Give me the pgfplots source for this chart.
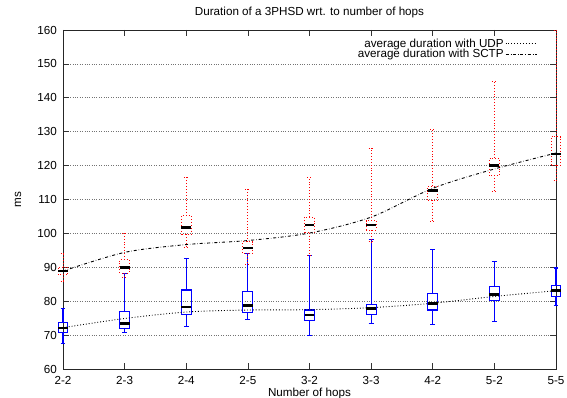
\documentclass[border=0pt]{standalone}
\usepackage{fontspec}
\setmainfont{Liberation Sans}
\usepackage{pgfplots}
\pgfplotsset{compat=1.18}
\usepgfplotslibrary{statistics}
\pgfplotsset{
  mylegimg/.style={legend image code/.code={\draw[##1] (0bp,0bp) -- (31bp,0bp);}},
  udpbox/.style={draw=blue, solid, line width=1.1bp, forget plot,
    boxplot/draw direction=y,
    boxplot/every box/.style={draw=blue, solid, line width=1.1bp},
    boxplot/every whisker/.style={draw=blue, solid, line width=1.1bp},
    boxplot/every median/.style={draw=none}},
  sctpbox/.style={draw=red, dotted, line width=0.9bp, forget plot,
    boxplot/draw direction=y,
    boxplot/every box/.style={draw=red, dotted, line width=0.9bp},
    boxplot/every whisker/.style={draw=red, dotted, line width=0.9bp},
    boxplot/every median/.style={draw=none}},
  medline/.style={draw=black, only marks, mark=-, mark size=4.9bp, forget plot,
    mark options={draw=black, solid, line width=2.6bp}},
}
\begin{document}
\fontsize{11.7}{13.5}\selectfont
\begin{tikzpicture}[font=\fontsize{11.7}{13.5}\selectfont]
\begin{axis}[
  scale only axis, width=493bp, height=339bp,
  xmin=0, xmax=8, ymin=60, ymax=160,
  xtick={0,...,8},
  xticklabels={2-2,2-3,2-4,2-5,3-2,3-3,4-2,5-2,5-5},
  ytick={60,70,...,160},
  /pgf/number format/assume math mode=true,
  xticklabel style={yshift=-3bp},
  yticklabel style={xshift=-2bp},
  ymajorgrids, grid style={dotted, draw=black!55, line width=0.7bp},
  tick align=inside, major tick length=6bp,
  tick style={draw=black!80, line width=0.6bp},
  axis line style={draw=black!85, line width=0.8bp},
  clip=false,
  boxplot/draw direction=y,
  boxplot/box extend=0.16,
  boxplot/whisker extend=0.08,
  title={Duration of a 3PHSD wrt. to number of hops},
  title style={at={(axis description cs:0.5,1)}, anchor=center, yshift=12bp},
  xlabel={Number of hops},
  xlabel style={at={(axis description cs:0.5,0)}, anchor=center, yshift=-24bp},
  ylabel={ms},
  ylabel style={at={(axis description cs:-0.0913,0.5)}, anchor=center},
  legend style={draw=none, fill=none, at={(0.968,0.985)}, anchor=north east,
    row sep=-3bp, nodes={inner sep=1.5bp}},
  legend plot pos=right,
  legend cell align=right,
]
% UDP boxes
\addplot[udpbox, boxplot prepared={draw position=0, lower whisker=67.5, lower quartile=70.7, median=72.1, upper quartile=73.6, upper whisker=77.9}] coordinates {};
\addplot[udpbox, boxplot prepared={draw position=1, lower whisker=70.7, lower quartile=71.9, median=73.4, upper quartile=76.9, upper whisker=88.3}] coordinates {};
\addplot[udpbox, boxplot prepared={draw position=2, lower whisker=72.6, lower quartile=76.1, median=78.3, upper quartile=83.3, upper whisker=92.5}] coordinates {};
\addplot[udpbox, boxplot prepared={draw position=3, lower whisker=74.6, lower quartile=76.6, median=78.8, upper quartile=82.9, upper whisker=94.2}] coordinates {};
\addplot[udpbox, boxplot prepared={draw position=4, lower whisker=70.0, lower quartile=74.2, median=75.9, upper quartile=77.4, upper whisker=93.4}] coordinates {};
\addplot[udpbox, boxplot prepared={draw position=5, lower whisker=73.4, lower quartile=76.0, median=77.8, upper quartile=78.9, upper whisker=98.2}] coordinates {};
\addplot[udpbox, boxplot prepared={draw position=6, lower whisker=73.1, lower quartile=77.4, median=79.4, upper quartile=82.4, upper whisker=95.3}] coordinates {};
\addplot[udpbox, boxplot prepared={draw position=7, lower whisker=74.0, lower quartile=80.1, median=81.9, upper quartile=84.4, upper whisker=91.8}] coordinates {};
\addplot[udpbox, boxplot prepared={draw position=8, lower whisker=78.7, lower quartile=81.3, median=83.1, upper quartile=84.6, upper whisker=89.8}] coordinates {};
% SCTP boxes
\addplot[sctpbox, boxplot prepared={draw position=0, lower whisker=85.9, lower quartile=87.9, median=88.9, upper quartile=90.1, upper whisker=94.0}] coordinates {};
\addplot[sctpbox, boxplot prepared={draw position=1, lower whisker=87.0, lower quartile=88.3, median=90.0, upper quartile=92.2, upper whisker=100.1}] coordinates {};
\addplot[sctpbox, boxplot prepared={draw position=2, lower whisker=96.0, lower quartile=99.7, median=101.8, upper quartile=105.2, upper whisker=116.6}] coordinates {};
\addplot[sctpbox, boxplot prepared={draw position=3, lower whisker=90.8, lower quartile=94.2, median=95.7, upper quartile=97.5, upper whisker=113.1}] coordinates {};
\addplot[sctpbox, boxplot prepared={draw position=4, lower whisker=93.5, lower quartile=100.2, median=102.5, upper quartile=104.8, upper whisker=116.6}] coordinates {};
\addplot[sctpbox, boxplot prepared={draw position=5, lower whisker=97.5, lower quartile=101.0, median=102.5, upper quartile=103.8, upper whisker=125.2}] coordinates {};
\addplot[sctpbox, boxplot prepared={draw position=6, lower whisker=103.5, lower quartile=109.8, median=112.7, upper quartile=113.9, upper whisker=130.8}] coordinates {};
\addplot[sctpbox, boxplot prepared={draw position=7, lower whisker=112.4, lower quartile=117.1, median=120.1, upper quartile=122.2, upper whisker=144.8}] coordinates {};
\addplot[sctpbox, boxplot prepared={draw position=8, lower whisker=115.6, lower quartile=120.1, median=123.4, upper quartile=128.5, upper whisker=160}] coordinates {};
% medians
\addplot[medline] coordinates {(0,72.1) (1,73.4) (2,78.3) (3,78.8) (4,75.9) (5,77.8) (6,79.4) (7,81.9) (8,83.1)};
\addplot[medline] coordinates {(0,88.9) (1,90.0) (2,101.8) (3,95.7) (4,102.5) (5,102.5) (6,112.7) (7,120.1) (8,123.4)};
% mean curves
\addplot[draw=black, dotted, line width=0.9bp, smooth, no marks, mylegimg]
  coordinates {(0,72.2) (1,74.9) (2,76.8) (3,77.4) (4,77.5) (5,78.1) (6,79.4) (7,81.4) (8,83.1)};
\addlegendentry{average duration with UDP}
\addplot[draw=black, dash dot, line width=0.9bp, smooth, no marks, mylegimg]
  coordinates {(0,88.9) (1,94.4) (2,96.7) (3,97.9) (4,100.1) (5,104.8) (6,113.3) (7,119.0) (8,123.7)};
\addlegendentry{average duration with SCTP}
\end{axis}
\pgfresetboundingbox
\path[use as bounding box] (-63bp,-29bp) rectangle (504bp,369bp);
\end{tikzpicture}
\end{document}
